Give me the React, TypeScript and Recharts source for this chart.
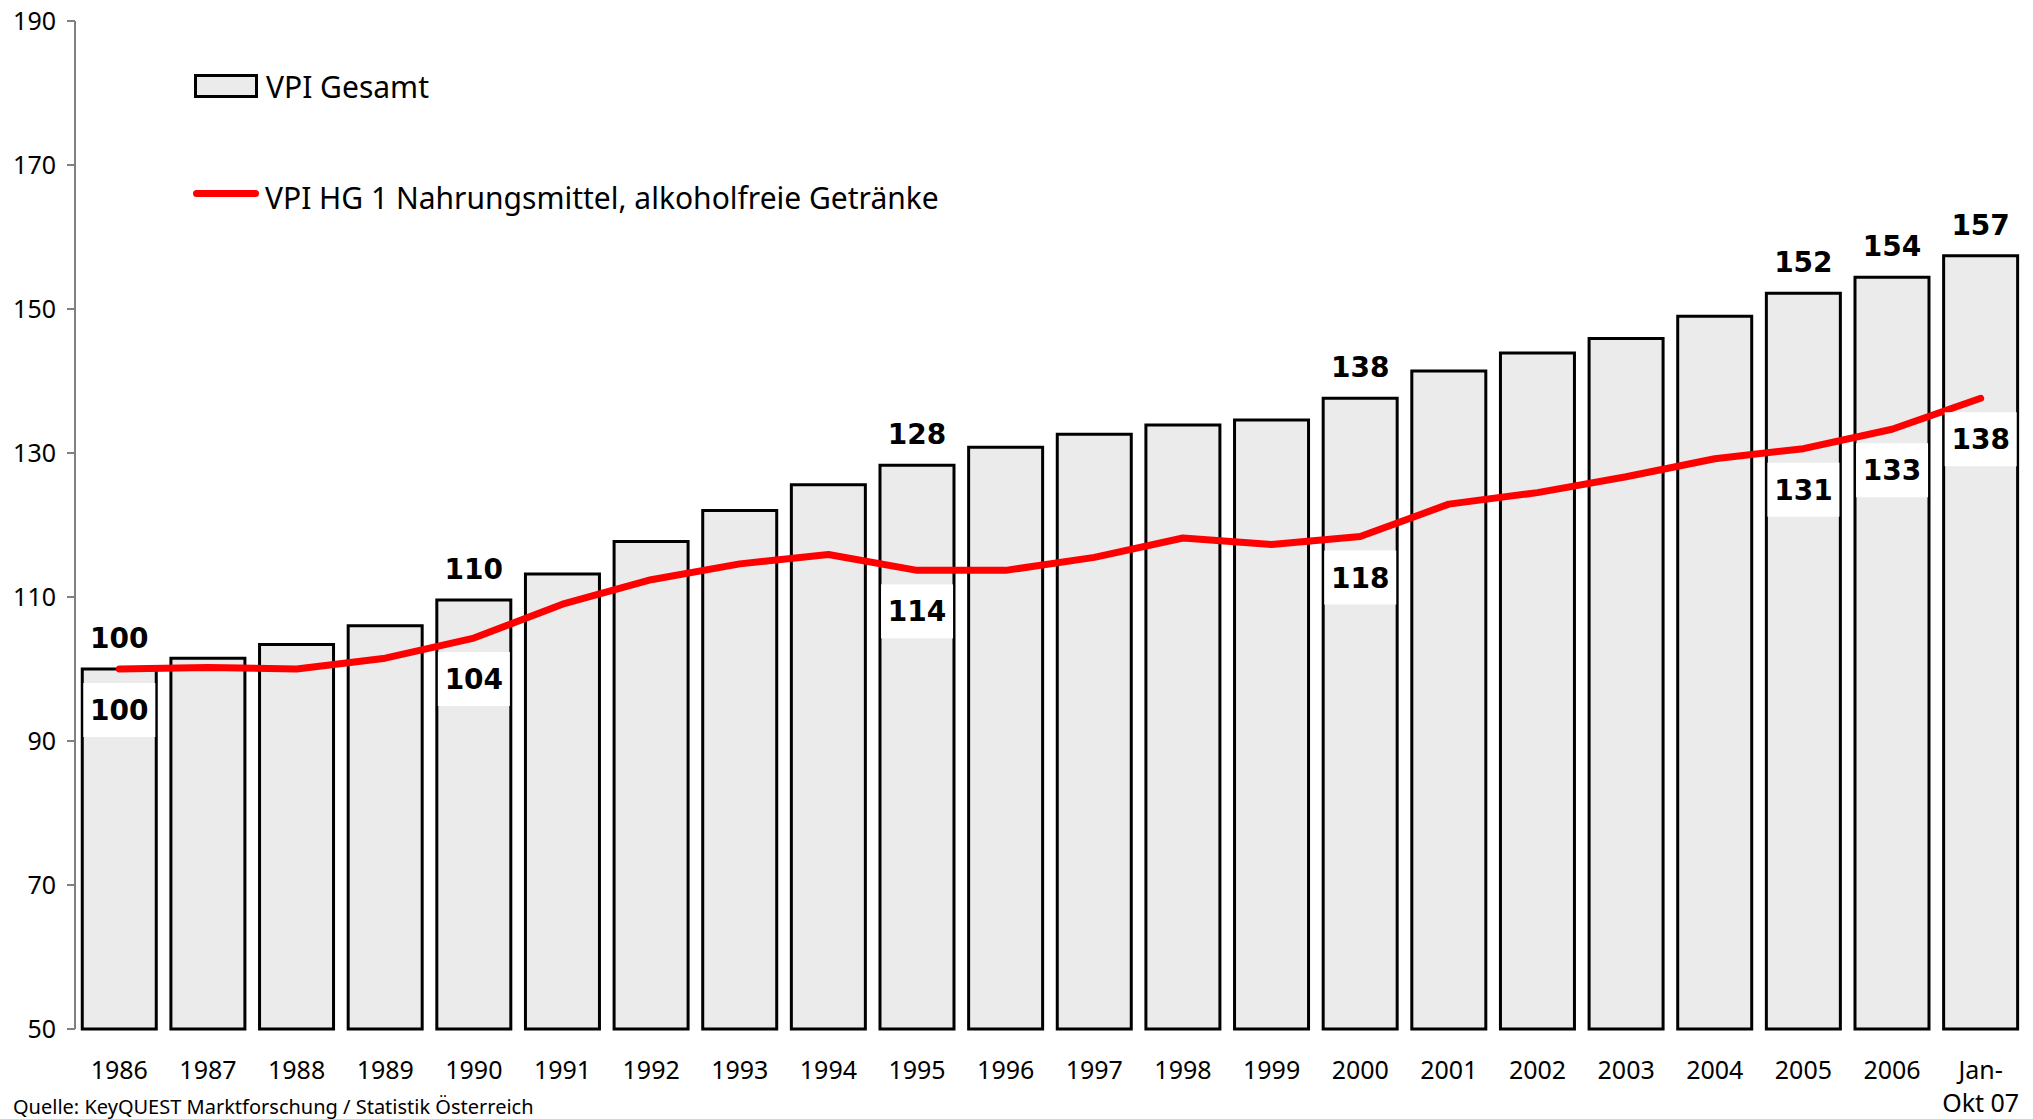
import React from "react";
import { Bar, ComposedChart, LabelList, Line, XAxis, YAxis } from "recharts";

const categories = [
  "1986", "1987", "1988", "1989", "1990", "1991", "1992", "1993", "1994", "1995", "1996",
  "1997", "1998", "1999", "2000", "2001", "2002", "2003", "2004", "2005", "2006", "Jan-\nOkt 07",
];
const vpiGesamt = [
  100, 101.5, 103.4, 106.0, 109.6, 113.2, 117.7, 122.0, 125.6, 128.3, 130.8,
  132.6, 133.9, 134.6, 137.6, 141.4, 143.9, 145.9, 149.0, 152.2, 154.4, 157.4,
];
const vpiNahrung = [
  100, 100.2, 100.0, 101.5, 104.3, 109.0, 112.4, 114.6, 115.9, 113.7, 113.7,
  115.5, 118.2, 117.3, 118.4, 122.9, 124.5, 126.7, 129.2, 130.6, 133.3, 137.6,
];
const labelledYears = ["1986", "1990", "1995", "2000", "2005", "2006", "Jan-\nOkt 07"];
const yTicks = [50, 70, 90, 110, 130, 150, 170, 190];

const rows = categories.map((year, i) => ({ year, gesamt: vpiGesamt[i], nahrung: vpiNahrung[i] }));

const FONT = "'Noto Sans', Tahoma, sans-serif";
const BOLD_FONT = "'DejaVu Sans', Verdana, sans-serif";

function YearTick({ x, y, payload }: any) {
  const lines = String(payload.value).split("\n");
  return (
    <text x={x} y={y} textAnchor="middle" fontFamily={FONT} fontSize={25} fill="#000">
      {lines.map((line, i) => (
        <tspan key={i} x={x} dy={i === 0 ? 50 : 33}>{line}</tspan>
      ))}
    </text>
  );
}

function BarValue(props: any) {
  const { x, y, width, value, index } = props;
  if (!labelledYears.includes(categories[index])) return null;
  return (
    <text x={x + width / 2} y={y - 21} textAnchor="middle" fontFamily={BOLD_FONT} fontWeight="bold" fontSize={28} fill="#000">
      {Math.round(value)}
    </text>
  );
}

function LineValue(props: any) {
  const { x, y, value, index } = props;
  if (!labelledYears.includes(categories[index])) return null;
  return (
    <g>
      <rect x={x - 36} y={y + 14} width={72} height={54} fill="#fff" />
      <text x={x} y={y + 51} textAnchor="middle" fontFamily={BOLD_FONT} fontWeight="bold" fontSize={28} fill="#000">
        {Math.round(value)}
      </text>
    </g>
  );
}

export default function App() {
  return (
    <div style={{ position: "absolute", left: 0, top: 0, width: 2033, height: 1119, background: "#fff", fontFamily: FONT }}>
      <ComposedChart width={2033} height={1119} data={rows} margin={{ top: 21, right: 8, left: 0, bottom: 0 }} barCategoryGap="8.2%">
        <XAxis dataKey="year" interval={0} axisLine={false} tickLine={false} tickSize={0} tickMargin={0} height={90} tick={<YearTick />} />
        <YAxis
          domain={[50, 190]}
          ticks={yTicks}
          width={75}
          tickSize={8}
          tickMargin={11}
          axisLine={{ stroke: "#808080", strokeWidth: 2 }}
          tickLine={{ stroke: "#808080", strokeWidth: 2 }}
          tick={{ fill: "#000", fontSize: 25, fontFamily: FONT }}
        />
        <Bar dataKey="gesamt" fill="#ebebeb" stroke="#000" strokeWidth={3} isAnimationActive={false}>
          <LabelList dataKey="gesamt" content={<BarValue />} />
        </Bar>
        <Line
          type="linear"
          dataKey="nahrung"
          stroke="#ff0000"
          strokeWidth={7}
          strokeLinecap="round"
          strokeLinejoin="round"
          dot={false}
          activeDot={false}
          isAnimationActive={false}
        >
          <LabelList dataKey="nahrung" content={<LineValue />} />
        </Line>
      </ComposedChart>

      <div style={{ position: "absolute", left: 194, top: 75, display: "flex", alignItems: "center", height: 22 }}>
        <div style={{ width: 58, height: 18, border: "3px solid #000", background: "#ebebeb" }} />
        <span style={{ marginLeft: 8, fontSize: 30, lineHeight: "30px", color: "#000", position: "relative", top: 1 }}>VPI Gesamt</span>
      </div>
      <div style={{ position: "absolute", left: 193, top: 182, display: "flex", alignItems: "center", height: 22 }}>
        <div style={{ width: 66, height: 7, borderRadius: 4, background: "#ff0000" }} />
        <span style={{ marginLeft: 6, fontSize: 30, lineHeight: "30px", color: "#000", position: "relative", top: 5 }}>
          VPI HG 1 Nahrungsmittel, alkoholfreie Getränke
        </span>
      </div>
      <div style={{ position: "absolute", left: 13, top: 1095, fontSize: 20, lineHeight: "24px", color: "#000" }}>
        Quelle: KeyQUEST Marktforschung / Statistik Österreich
      </div>
    </div>
  );
}
